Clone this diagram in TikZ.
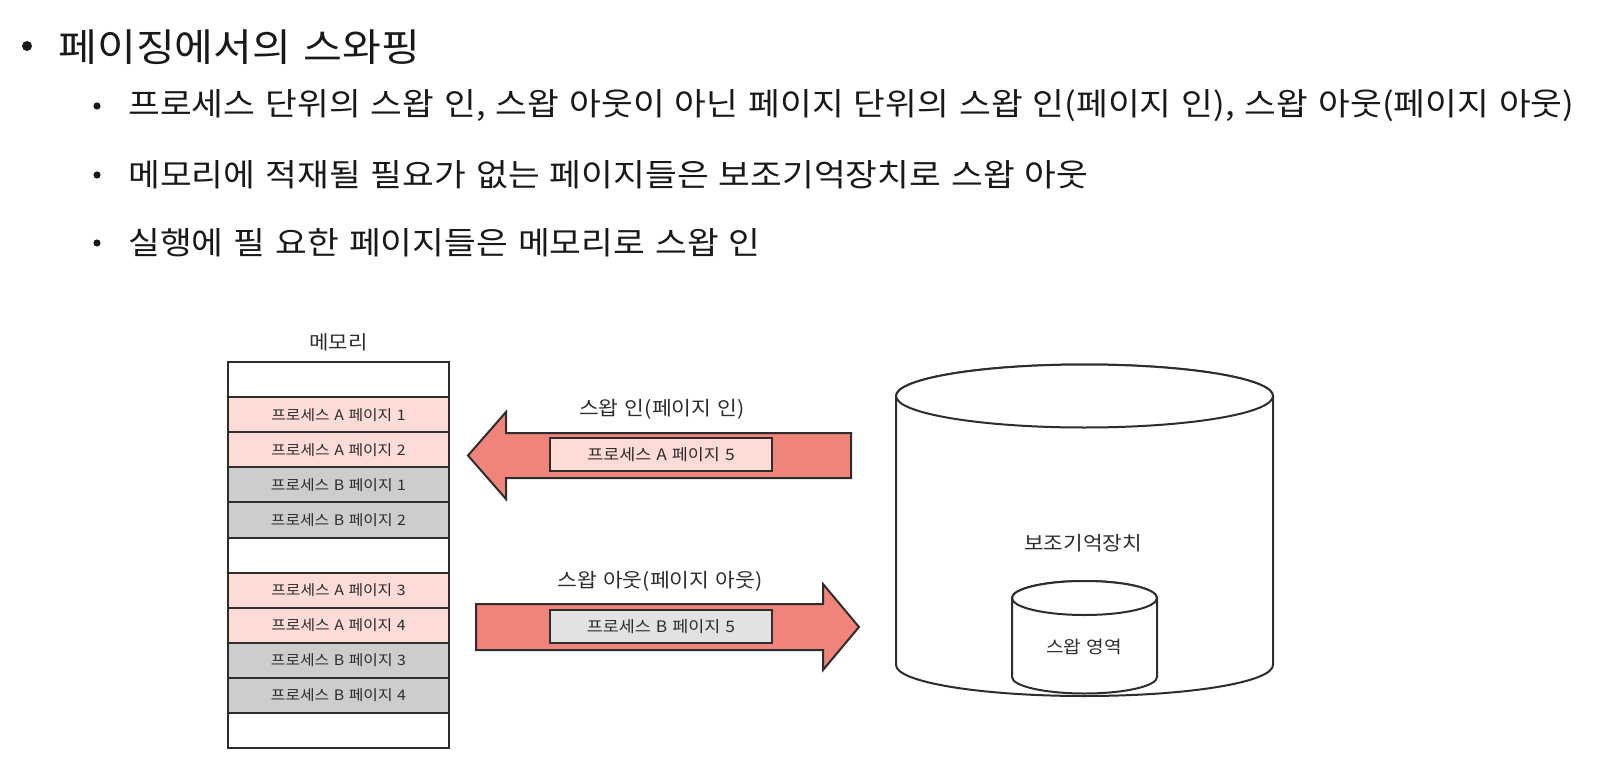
\documentclass[tikz,border=0pt]{standalone}
\usepackage{fontspec}
\setmainfont{Noto Sans CJK KR}[FakeStretch=1.1, WordSpace=1.3]
\usetikzlibrary{positioning}
\definecolor{pagepink}{RGB}{253,219,214}
\definecolor{pagegray}{RGB}{205,205,205}
\definecolor{boxgray}{RGB}{226,226,226}
\definecolor{swapred}{RGB}{240,132,122}
\definecolor{inkdark}{RGB}{45,45,45}

\begin{document}
\begin{tikzpicture}[x=0.5pt, y=-0.5pt,
    memrow/.style={draw=inkdark, line width=1pt, minimum width=110.5pt, minimum height=17.55pt, inner sep=0pt, text=inkdark, font=\fontsize{7.2}{8}\selectfont},
    pagebox/.style={draw=inkdark, line width=1pt, minimum width=111pt, minimum height=16.5pt, inner sep=0pt, text=inkdark, font=\fontsize{7.9}{8}\selectfont},
    bigarrow/.style={draw=inkdark, line width=1pt, fill=swapred, line join=miter},
    disk/.style={draw=inkdark, line width=1pt, fill=white},
    diaglabel/.style={text=inkdark, inner sep=0pt, font=\fontsize{9.8}{10}\selectfont},
    dotmark/.style={circle, fill=black!90, inner sep=0pt},
    bodytext/.style={anchor=west, inner sep=0pt, text=black!90}]
  \useasboundingbox (0,0) rectangle (1597,760);

  % bullet text
  \node [dotmark, minimum size=5pt] (top_dot) at (27,46) {};
  \node [bodytext, font=\fontsize{19.2}{21}\selectfont] (top_title) at (58,47) {페이징에서의 스와핑};
  \node [dotmark, minimum size=3.6pt] (dot_a) at (97,106) {};
  \node [dotmark, minimum size=3.6pt] (dot_b) at (97,175) {};
  \node [dotmark, minimum size=3.6pt] (dot_c) at (97,243) {};
  \node [bodytext, font=\fontsize{15.7}{17}\selectfont] (sub_a) at (128,106) {프로세스 단위의 스왑 인, 스왑 아웃이 아닌 페이지 단위의 스왑 인(페이지 인), 스왑 아웃(페이지 아웃)};
  \node [bodytext, font=\fontsize{15.7}{17}\selectfont] (sub_b) at (128,175) {메모리에 적재될 필요가 없는 페이지들은 보조기억장치로 스왑 아웃};
  \node [bodytext, font=\fontsize{15.7}{17}\selectfont] (sub_c) at (128,243) {실행에 필 요한 페이지들은 메모리로 스왑 인};

  % memory
  \foreach \i/\c/\txt in {0/white/{}, 1/pagepink/{프로세스 A 페이지 1}, 2/pagepink/{프로세스 A 페이지 2},
      3/pagegray/{프로세스 B 페이지 1}, 4/pagegray/{프로세스 B 페이지 2}, 5/white/{},
      6/pagepink/{프로세스 A 페이지 3}, 7/pagepink/{프로세스 A 페이지 4},
      8/pagegray/{프로세스 B 페이지 3}, 9/pagegray/{프로세스 B 페이지 4}, 10/white/{}}
    \node [memrow, fill=\c] (mem_r\i) at (338.5,{362+35.1*(\i+0.5)}) {\txt};
  \node [diaglabel, font=\fontsize{9.6}{10}\selectfont, above=5pt of mem_r0] (mem_label) {메모리};

  % swap arrows
  \draw [bigarrow] (851,433) -- (506,433) -- (506,412) -- (468,455.5) -- (506,499) -- (506,478) -- (851,478) -- cycle;
  \draw [bigarrow] (476,604) -- (823,604) -- (823,584) -- (859,627) -- (823,670) -- (823,650) -- (476,650) -- cycle;
  \node [pagebox, fill=pagepink] (in_page) at (661,454.5) {프로세스 A 페이지 5};
  \node [pagebox, fill=boxgray] (out_page) at (661,626.5) {프로세스 B 페이지 5};
  \node [diaglabel] (in_label) at (662,409) {스왑 인(페이지 인)};
  \node [diaglabel] (out_label) at (660,581) {스왑 아웃(페이지 아웃)};

  % storage
  \draw [disk] (896,396) -- (896,665) arc [start angle=180, end angle=360, x radius=94.25pt, y radius=15.5pt]
    -- (1273,396) arc [start angle=0, end angle=180, x radius=94.25pt, y radius=15.75pt] -- cycle;
  \draw [disk] (1084.5,396) ellipse [x radius=94.25pt, y radius=15.75pt];
  \draw [disk] (1012,598) -- (1012,677) arc [start angle=180, end angle=360, x radius=36.25pt, y radius=8.25pt]
    -- (1157,598) arc [start angle=0, end angle=180, x radius=36.25pt, y radius=8.5pt] -- cycle;
  \draw [disk] (1084.5,598) ellipse [x radius=36.25pt, y radius=8.5pt];
  \node [diaglabel, font=\fontsize{9.7}{10}\selectfont] (disk_label) at (1083,543) {보조기억장치};
  \node [diaglabel, font=\fontsize{8.7}{9}\selectfont] (swap_label) at (1084,647) {스왑 영역};
\end{tikzpicture}
\end{document}
